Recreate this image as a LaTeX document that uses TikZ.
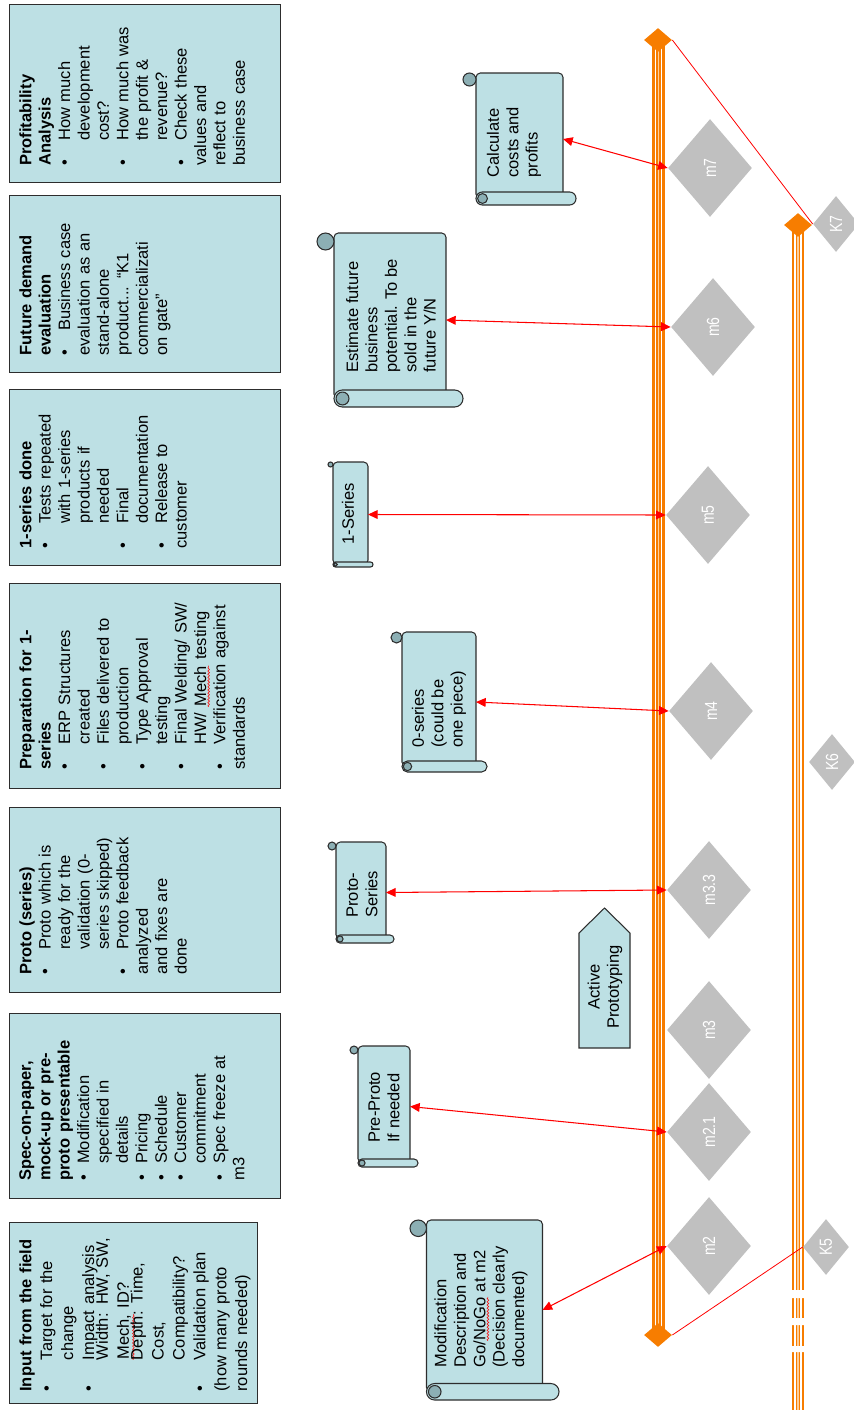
\documentclass[tikz,border=0pt]{standalone}
\usepackage{fontspec}
\setmainfont{Liberation Sans}
\usepackage{graphicx}
\usetikzlibrary{shapes.geometric,arrows.meta,decorations.pathmorphing}

\definecolor{panelfill}{RGB}{189,224,228}
\definecolor{panelline}{RGB}{45,45,45}
\definecolor{curlfill}{RGB}{140,175,180}
\definecolor{msgray}{RGB}{192,192,192}
\definecolor{tlorange}{RGB}{247,125,0}
\definecolor{tlpale}{RGB}{255,205,150}

% line breaks inside a bullet item (keep the hanging indent)
\newcommand{\nl}{\newline}
\newcommand{\nlc}{\vadjust{\vskip-4pt}\newline}
% bullet item with hanging indent
\newcommand{\bitem}[2]{\par\noindent\hangindent=#1\hangafter=1\makebox[#1][l]{\textbullet}#2}
% word marked with a red wavy underline
\newcommand{\squig}[1]{\tikz[baseline=(w.base)]{\node[inner sep=0pt] (w) {#1};
  \draw[red, line width=0.3pt, decorate, decoration={snake, amplitude=0.5pt, segment length=1.8pt}]
    ([yshift=-1.2pt]w.south west) -- ([yshift=-1.2pt]w.south east);}}

% scroll: name, left, top, right, bottom, roll size
\newcommand{\scrollshape}[6]{%
  \path[scrolldraw, rounded corners=2.5pt] ({#2+#6},{#5-#6/2}) rectangle ({#4-#6},#3);
  \path[scrolldraw, rounded corners={#6*0.28pt}] ({#2+#6},{#5-#6}) rectangle (#4,#5);
  \path[curldraw] ({#2+#6*1.5},{#5-#6*0.5}) circle[radius={#6*0.38}];
  \path[curldraw] ({#2+#6*0.5},{#3+#6*0.5}) circle[radius={#6*0.5}];
  \coordinate (#1) at ({#4-#6},{(#3+#5)/2});
}

\tikzset{
  panel/.style={draw=panelline, line width=0.7pt, fill=panelfill, anchor=north west, inner sep=0pt},
  ptext/.style={rotate=90, anchor=north west, inner sep=0pt, text width=4cm, align=left,
                font=\fontsize{9.4}{11.05}\selectfont},
  stext/.style={rotate=90, anchor=west, inner sep=0pt, align=left,
                font=\fontsize{9.4}{11.05}\selectfont},
  scrolldraw/.style={draw=panelline, line width=0.6pt, fill=panelfill},
  curldraw/.style={draw=panelline, line width=0.6pt, fill=curlfill},
  ms/.style={diamond, fill=msgray, inner sep=0pt, minimum width=1.68cm, minimum height=1.96cm,
             text=white, font=\fontsize{10}{12}\selectfont},
  kms/.style={ms, minimum width=0.92cm, minimum height=1.12cm},
  odiamond/.style={diamond, fill=tlorange, inner sep=0pt, minimum width=0.56cm, minimum height=0.48cm},
  redarrow/.style={red, line width=0.6pt,
                   {Triangle[length=5.5pt,width=5pt]}-{Triangle[length=5.5pt,width=5pt]}},
  redline/.style={red, line width=0.45pt},
}

\newcommand{\mlabel}[1]{\rotatebox{90}{\scalebox{0.8}[1]{#1}}}

\begin{document}
\begin{tikzpicture}[x=0.02cm, y=-0.02cm]
\useasboundingbox (0,0) rectangle (854,1423);

% ---------- phase panels ----------
\node[panel, minimum width=4.96cm, minimum height=3.62cm] (p1) at (9,1222) {};
\node[panel, minimum width=5.42cm, minimum height=3.70cm] (p2) at (9,1013) {};
\node[panel, minimum width=5.42cm, minimum height=3.70cm] (p3) at (9,807) {};
\node[panel, minimum width=5.42cm, minimum height=4.10cm] (p4) at (9,583) {};
\node[panel, minimum width=5.42cm, minimum height=3.52cm] (p5) at (9,389) {};
\node[panel, minimum width=5.42cm, minimum height=3.54cm] (p6) at (9,195) {};
\node[panel, minimum width=5.42cm, minimum height=3.56cm] (p7) at (9,4) {};

\node[ptext, font=\fontsize{9.4}{11.9}\selectfont] (t1) at (19,1392) {%
  \noindent\textbf{Input from the field}%
  \bitem{18pt}{Target for the\nl change}%
  \bitem{18pt}{Impact analysis\nlc Width: HW, SW,\nl \squig{Mech,} ID?\nlc Depth: Time,\nl Cost,\nl Compatibility?}%
  \bitem{18pt}{Validation plan\nl (how many proto\nl rounds needed)}};

\node[ptext] (t2) at (19,1181) {%
  \noindent\textbf{Spec-on-paper,\\mock-up or pre-\\proto presentable}%
  \bitem{9.6pt}{Modification\nl specified in\nl details}%
  \bitem{9.6pt}{Pricing}%
  \bitem{9.6pt}{Schedule}%
  \bitem{9.6pt}{Customer\nl commitment}%
  \bitem{9.6pt}{Spec freeze at\nl m3}};

\node[ptext] (t3) at (19,975) {%
  \noindent\textbf{Proto (series)}%
  \bitem{14.2pt}{Proto which is\nl ready for the\nl validation (0-\nl series skipped)}%
  \bitem{14.2pt}{Proto feedback\nl analyzed\nl and fixes are\nl done}};

\node[ptext] (t4) at (19,770) {%
  \noindent\textbf{Preparation for 1-\\series}%
  \bitem{14.2pt}{ERP Structures\nl created}%
  \bitem{14.2pt}{Files delivered to\nl production}%
  \bitem{14.2pt}{Type Approval\nl testing}%
  \bitem{14.2pt}{Final Welding/ SW/\nl HW/ \squig{Mech} testing}%
  \bitem{14.2pt}{Verification against\nl standards}};

\node[ptext] (t5) at (19,549) {%
  \noindent\textbf{1-series done}%
  \bitem{14.2pt}{Tests repeated\nl with 1-series\nl products if\nl needed}%
  \bitem{14.2pt}{Final\nl documentation}%
  \bitem{14.2pt}{Release to\nl customer}};

\node[ptext] (t6) at (19,356) {%
  \noindent\textbf{Future demand\\evaluation}%
  \bitem{14.2pt}{Business case\nl evaluation as an\nl stand-alone\nl product... “K1\nl commercializati\nl on gate”}};

\node[ptext] (t7) at (19,166) {%
  \noindent\textbf{Profitability\\Analysis}%
  \bitem{14.2pt}{How much\nl development\nl cost?}%
  \bitem{14.2pt}{How much was\nl the profit \&\nl revenue?}%
  \bitem{14.2pt}{Check these\nl values and\nl reflect to\nl business case}};

% ---------- scrolls ----------
\scrollshape{sA}{410}{1220}{559}{1400}{16.5}
\scrollshape{sB}{350}{1046}{418}{1167}{8}
\scrollshape{sC}{328}{842}{394}{943}{8}
\scrollshape{sD}{328}{462}{373}{567}{5}
\scrollshape{sE}{391}{632}{487}{772}{11}
\scrollshape{sF}{317}{233}{463}{407}{17}
\scrollshape{sG}{463}{73}{576}{205}{13}

\node[stext] (tA) at (481,1368) {Modification\\Description and\\Go/\squig{NoGo} at m2\\(Decision clearly\\documented)};
\node[stext] (tB) at (384,1143) {Pre-Proto\\If needed};
\node[stext] (tC) at (362,918) {Proto-\\Series};
\node[stext] (tD) at (348,545) {1-Series};
\node[stext] (tE) at (439,748) {0-series\\(could be\\one piece)};
\node[stext] (tF) at (391,373) {Estimate future\\business\\potential. To be\\sold in the\\future Y/N};
\node[stext] (tG) at (514,178) {Calculate\\costs and\\profits};

% ---------- active prototyping marker ----------
\path[scrolldraw] (579,1048) -- (579,933) -- (604.5,908) -- (630,933) -- (630,1048) -- cycle;
\node[rotate=90, align=center, inner sep=0pt, font=\fontsize{9.4}{11.05}\selectfont] (act) at (605,987) {Active\\Prototyping};

% ---------- timelines ----------
\fill[tlorange] (652,40) rectangle (665,1335);
\draw[white, line width=0.75pt] (655.2,40) -- (655.2,1335) (661.8,40) -- (661.8,1335);
\draw[tlpale, line width=0.6pt] (658.5,40) -- (658.5,1335);

\fill[tlorange] (792,225) rectangle (804,1410);
\draw[white, line width=0.75pt] (795,225) -- (795,1410) (801,225) -- (801,1410);
\draw[tlpale, line width=0.6pt] (798,225) -- (798,1410);
\fill[white] (790,1290) rectangle (806,1298) (790,1318) rectangle (806,1325) (790,1346) rectangle (806,1352);

\node[odiamond] (otop) at (658,40) {};
\node[odiamond] (obot) at (658,1335) {};
\node[odiamond] (ktop) at (798,225) {};

% ---------- milestones ----------
\node[ms] (m7) at (710,168) {\mlabel{m7}};
\node[ms] (m6) at (713,327) {\mlabel{m6}};
\node[ms] (m5) at (708,515) {\mlabel{m5}};
\node[ms] (m4) at (711,711) {\mlabel{m4}};
\node[ms] (m33) at (709,890) {\mlabel{m3.3}};
\node[ms] (m3) at (709,1030) {\mlabel{m3}};
\node[ms] (m21) at (709,1132) {\mlabel{m2.1}};
\node[ms] (m2) at (709,1246) {\mlabel{m2}};

\node[kms] (k7) at (836,224) {\mlabel{K7}};
\node[kms] (k6) at (832,762) {\mlabel{K6}};
\node[kms] (k5) at (826,1247) {\mlabel{K5}};

% ---------- connectors ----------
\draw[redline] (otop.east) -- (k7.west);
\draw[redline] (obot.east) -- (k5.west);

\draw[redarrow] (sG) -- (m7.west);
\draw[redarrow] (sF) -- (m6.west);
\draw[redarrow] (sD) -- (m5.west);
\draw[redarrow] (sE) -- (m4.west);
\draw[redarrow] (sC) -- (m33.west);
\draw[redarrow] (sB) -- (m21.west);
\draw[redarrow] (sA) -- (m2.west);

\end{tikzpicture}
\end{document}
